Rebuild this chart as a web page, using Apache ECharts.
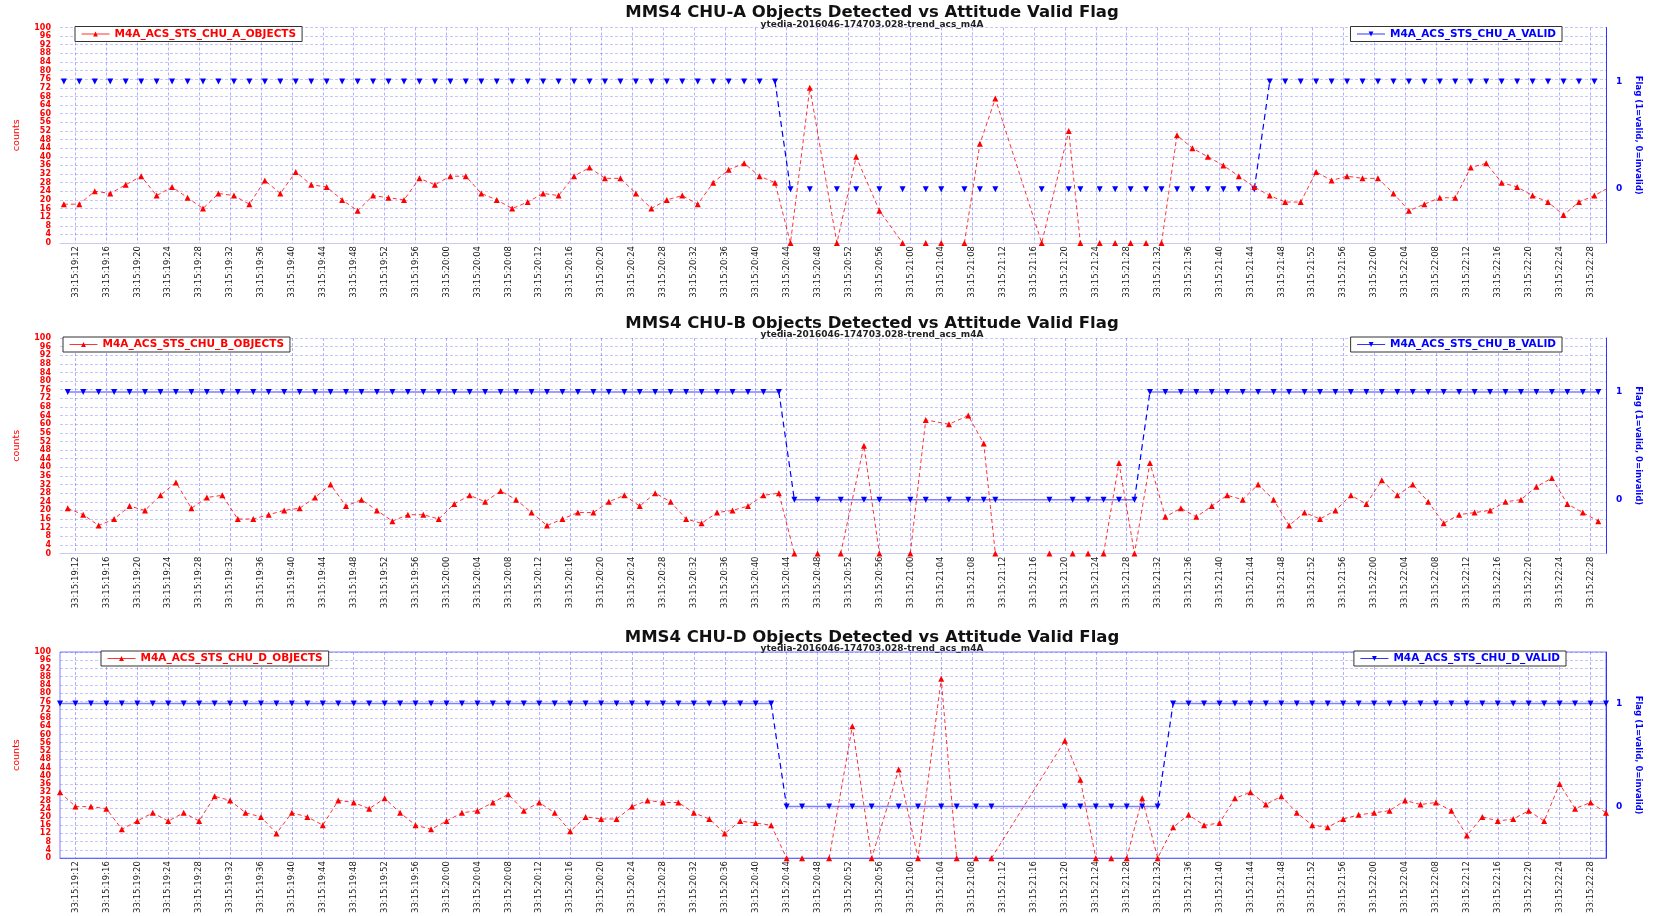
<!DOCTYPE html>
<html>
<head>
<meta charset="utf-8">
<title>MMS4 CHU Objects Detected vs Attitude Valid Flag</title>
<script src="https://cdn.jsdelivr.net/npm/echarts@6/dist/echarts.min.js"></script>
<style>
  html, body { margin: 0; padding: 0; background: #fff; }
  #chart { width: 1657px; height: 916px; }
</style>
</head>
<body>
<div id="chart"></div>
<script>
// sample times are seconds after 33:15:19:12
const chuATimes = [-1.5, 0.5, 2.5, 4.5, 6.5, 8.5, 10.5, 12.5, 14.5, 16.5, 18.5, 20.5, 22.5, 24.5, 26.5, 28.5, 30.5, 32.5, 34.5, 36.5,
  38.5, 40.5, 42.5, 44.5, 46.5, 48.5, 50.5, 52.5, 54.5, 56.5, 58.5, 60.5, 62.5, 64.5, 66.5, 68.5, 70.5, 72.5, 74.5, 76.5,
  78.5, 80.5, 82.5, 84.5, 86.5, 88.5, 90.5,
  92.5, 95, 98.5, 101, 104, 107, 110, 112, 115, 117, 119, 125, 128.5, 130, 132.5, 134.5, 136.5, 138.5, 140.5,
  142.5, 144.5, 146.5, 148.5, 150.5, 152.5, 154.5, 156.5, 158.5, 160.5, 162.5, 164.5, 166.5, 168.5, 170.5, 172.5,
  174.5, 176.5, 178.5, 180.5, 182.5, 184.5, 186.5, 188.5, 190.5, 192.5, 194.5, 196.5, 198.5];
const chuAObjects = [18, 18, 24, 23, 27, 31, 22, 26, 21, 16, 23, 22, 18, 29, 23, 33, 27, 26, 20, 15,
  22, 21, 20, 30, 27, 31, 31, 23, 20, 16, 19, 23, 22, 31, 35, 30, 30, 23, 16, 20,
  22, 18, 28, 34, 37, 31, 28,
  0, 72, 0, 40, 15, 0, 0, 0, 0, 46, 67, 0, 52, 0, 0, 0, 0, 0, 0,
  50, 44, 40, 36, 31, 26, 22, 19, 19, 33, 29, 31, 30, 30, 23, 15,
  18, 21, 21, 35, 37, 28, 26, 22, 19, 13, 19, 22, 26];
const chuAValid = [1, 1, 1, 1, 1, 1, 1, 1, 1, 1, 1, 1, 1, 1, 1, 1, 1, 1, 1, 1,
  1, 1, 1, 1, 1, 1, 1, 1, 1, 1, 1, 1, 1, 1, 1, 1, 1, 1, 1, 1,
  1, 1, 1, 1, 1, 1, 1,
  0, 0, 0, 0, 0, 0, 0, 0, 0, 0, 0, 0, 0, 0, 0, 0, 0, 0, 0,
  0, 0, 0, 0, 0, 0, 1, 1, 1, 1, 1, 1, 1, 1, 1, 1,
  1, 1, 1, 1, 1, 1, 1, 1, 1, 1, 1, 1, 1];

const chuBTimes = [-1, 1, 3, 5, 7, 9, 11, 13, 15, 17, 19, 21, 23, 25, 27, 29, 31, 33, 35, 37,
  39, 41, 43, 45, 47, 49, 51, 53, 55, 57, 59, 61, 63, 65, 67, 69, 71, 73, 75, 77,
  79, 81, 83, 85, 87, 89, 91,
  93, 96, 99, 102, 104, 108, 110, 113, 115.5, 117.5, 119, 126, 129, 131, 133, 135, 137, 139,
  141, 143, 145, 147, 149, 151, 153, 155, 157, 159, 161, 163, 165, 167, 169, 171,
  173, 175, 177, 179, 181, 183, 185, 187, 189, 191, 193, 195, 197];
const chuBObjects = [21, 18, 13, 16, 22, 20, 27, 33, 21, 26, 27, 16, 16, 18, 20, 21, 26, 32, 22, 25,
  20, 15, 18, 18, 16, 23, 27, 24, 29, 25, 19, 13, 16, 19, 19, 24, 27, 22, 28, 24,
  16, 14, 19, 20, 22, 27, 28,
  0, 0, 0, 50, 0, 0, 62, 60, 64, 51, 0, 0, 0, 0, 0, 42, 0, 42,
  17, 21, 17, 22, 27, 25, 32, 25, 13, 19, 16, 20, 27, 23, 34, 27,
  32, 24, 14, 18, 19, 20, 24, 25, 31, 35, 23, 19, 15];
const chuBValid = [1, 1, 1, 1, 1, 1, 1, 1, 1, 1, 1, 1, 1, 1, 1, 1, 1, 1, 1, 1,
  1, 1, 1, 1, 1, 1, 1, 1, 1, 1, 1, 1, 1, 1, 1, 1, 1, 1, 1, 1,
  1, 1, 1, 1, 1, 1, 1,
  0, 0, 0, 0, 0, 0, 0, 0, 0, 0, 0, 0, 0, 0, 0, 0, 0, 1,
  1, 1, 1, 1, 1, 1, 1, 1, 1, 1, 1, 1, 1, 1, 1, 1,
  1, 1, 1, 1, 1, 1, 1, 1, 1, 1, 1, 1, 1];

const chuDTimes = [-2, 0, 2, 4, 6, 8, 10, 12, 14, 16, 18, 20, 22, 24, 26, 28, 30, 32, 34, 36,
  38, 40, 42, 44, 46, 48, 50, 52, 54, 56, 58, 60, 62, 64, 66, 68, 70, 72, 74, 76,
  78, 80, 82, 84, 86, 88, 90,
  92, 94, 97.5, 100.5, 103, 106.5, 109, 112, 114, 116.5, 118.5, 128, 130, 132, 134, 136, 138, 140,
  142, 144, 146, 148, 150, 152, 154, 156, 158, 160, 162, 164, 166, 168, 170, 172,
  174, 176, 178, 180, 182, 184, 186, 188, 190, 192, 194, 196, 198];
const chuDObjects = [32, 25, 25, 24, 14, 18, 22, 18, 22, 18, 30, 28, 22, 20, 12, 22, 20, 16, 28, 27,
  24, 29, 22, 16, 14, 18, 22, 23, 27, 31, 23, 27, 22, 13, 20, 19, 19, 25, 28, 27,
  27, 22, 19, 12, 18, 17, 16,
  0, 0, 0, 64, 0, 43, 0, 87, 0, 0, 0, 57, 38, 0, 0, 0, 29, 0,
  15, 21, 16, 17, 29, 32, 26, 30, 22, 16, 15, 19, 21, 22, 23, 28,
  26, 27, 23, 11, 20, 18, 19, 23, 18, 36, 24, 27, 22];
const chuDValid = [1, 1, 1, 1, 1, 1, 1, 1, 1, 1, 1, 1, 1, 1, 1, 1, 1, 1, 1, 1,
  1, 1, 1, 1, 1, 1, 1, 1, 1, 1, 1, 1, 1, 1, 1, 1, 1, 1, 1, 1,
  1, 1, 1, 1, 1, 1, 1,
  0, 0, 0, 0, 0, 0, 0, 0, 0, 0, 0, 0, 0, 0, 0, 0, 0, 0,
  1, 1, 1, 1, 1, 1, 1, 1, 1, 1, 1, 1, 1, 1, 1, 1,
  1, 1, 1, 1, 1, 1, 1, 1, 1, 1, 1, 1, 1];

// x ticks every 4 s, 33:15:19:12 .. 33:15:22:28
const tickSeconds = [];
for (let t = 0; t <= 196; t += 4) tickSeconds.push(t);

function timeLabel(sec) {
  const total = 19 * 60 + 12 + sec;
  const mm = Math.floor(total / 60);
  const ss = total % 60;
  return '33:15:' + mm + ':' + (ss < 10 ? '0' : '') + ss;
}

const panels = [
  { unit: 'A', top: 27.5, left: 75, right: 95, times: chuATimes, objects: chuAObjects, valid: chuAValid,
    flagLine: { color: '#0000ff', width: 1, opacity: 0 }, border: false },
  { unit: 'B', top: 338, left: 63, right: 95, times: chuBTimes, objects: chuBObjects, valid: chuBValid,
    flagLine: { color: '#0000ff', width: 1.5, opacity: 0.5 }, border: false },
  { unit: 'D', top: 652, left: 101, right: 91, times: chuDTimes, objects: chuDObjects, valid: chuDValid,
    flagLine: { color: '#0000ff', width: 1.5, opacity: 0.5 }, border: true }
];

// consecutive zero counts are not joined
function objectPoints(times, vals) {
  const out = [];
  for (let j = 0; j < times.length; j++) {
    if (j > 0 && vals[j] === 0 && vals[j - 1] === 0) out.push([(times[j] + times[j - 1]) / 2, '-']);
    out.push([times[j], vals[j]]);
  }
  return out;
}
// flag level line, broken where the flag switches
function flagPoints(times, vals) {
  const out = [];
  for (let j = 0; j < times.length; j++) {
    if (j > 0 && vals[j] !== vals[j - 1]) out.push([(times[j] + times[j - 1]) / 2, '-']);
    out.push([times[j], vals[j]]);
  }
  return out;
}
function flagSwitches(times, vals) {
  const out = [];
  for (let j = 1; j < times.length; j++) {
    if (vals[j] !== vals[j - 1]) {
      out.push([times[j - 1], vals[j - 1]], [times[j], vals[j]], [times[j], '-']);
    }
  }
  return out;
}

const FONT = 'DejaVu Sans';
const option = { animation: false, title: [], legend: [], grid: [], xAxis: [], yAxis: [], series: [] };

panels.forEach(function (p, i) {
  const objName = 'M4A_ACS_STS_CHU_' + p.unit + '_OBJECTS';
  const flagName = 'M4A_ACS_STS_CHU_' + p.unit + '_VALID';

  option.title.push({
    text: 'MMS4 CHU-' + p.unit + ' Objects Detected vs Attitude Valid Flag',
    left: 872, top: p.top - 23, textAlign: 'center', padding: 0,
    textStyle: { fontFamily: FONT, fontSize: 16.5, fontWeight: 'bold', color: '#111' }
  });
  option.title.push({
    text: 'ytedia-2016046-174703.028-trend_acs_m4A',
    left: 872, top: p.top - 7.5, textAlign: 'center', padding: 0,
    textStyle: { fontFamily: FONT, fontSize: 9, fontWeight: 'bold', color: '#222' }
  });

  option.grid.push({
    left: 60, right: 51, top: p.top, height: 215.5,
    show: p.border, borderColor: 'rgba(90,90,255,0.8)', borderWidth: 1
  });

  option.xAxis.push({
    gridIndex: i, type: 'value', min: -2, max: 198,
    axisLine: { show: true, onZero: false, lineStyle: { color: p.border ? 'rgba(90,90,255,0.8)' : '#c8c8f0' } },
    axisTick: { show: false, customValues: tickSeconds },
    axisLabel: {
      customValues: tickSeconds, rotate: 90, margin: 3, formatter: timeLabel,
      fontFamily: FONT, fontSize: 8.5, color: '#1a1a1a'
    },
    splitLine: { show: true, lineStyle: { color: 'rgba(70,70,255,0.42)', type: [3, 2], width: 1 } }
  });

  option.yAxis.push({
    gridIndex: i, type: 'value', min: 0, max: 100, interval: 4, position: 'left',
    name: 'counts', nameLocation: 'middle', nameGap: 38,
    nameTextStyle: { color: '#ff0000', fontFamily: FONT, fontSize: 9.5 },
    axisLine: { show: false }, axisTick: { show: false },
    axisLabel: {
      color: '#ff0000', fontWeight: 'bold', fontFamily: FONT, fontSize: 8, lineHeight: 7, margin: 9,
      showMinLabel: true, showMaxLabel: true, hideOverlap: false
    },
    splitLine: { show: true, lineStyle: { color: 'rgba(70,70,255,0.3)', type: [3, 2], width: 1 } }
  });
  option.yAxis.push({
    gridIndex: i, type: 'value', min: -0.5, max: 1.5, interval: 0.5, position: 'right',
    name: 'Flag (1=valid, 0=invalid)', nameLocation: 'middle', nameRotate: -90, nameGap: 28,
    nameTextStyle: { color: '#0000ff', fontFamily: FONT, fontSize: 8.5, fontWeight: 'bold' },
    axisLine: { show: true, lineStyle: { color: '#3333ff', width: 1 } },
    axisTick: { show: false }, splitLine: { show: false },
    axisLabel: {
      color: '#0000ff', fontWeight: 'bold', fontFamily: FONT, fontSize: 9, margin: 10,
      formatter: function (v) { return (v === 0 || v === 1) ? String(v) : ''; }
    }
  });

  const legendBase = {
    top: p.top - 1, padding: [2, 6, 2, 6], itemWidth: 28, itemHeight: 6, itemGap: 0,
    backgroundColor: '#fff', borderColor: '#333', borderWidth: 1,
    lineStyle: { type: 'solid', opacity: 0.8, width: 1 }
  };
  option.legend.push(Object.assign({}, legendBase, {
    data: [objName], left: p.left,
    textStyle: { color: '#ff0000', fontFamily: FONT, fontWeight: 'bold', fontSize: 10.5 }
  }));
  option.legend.push(Object.assign({}, legendBase, {
    data: [flagName], right: p.right,
    textStyle: { color: '#0000ff', fontFamily: FONT, fontWeight: 'bold', fontSize: 10.5 }
  }));

  option.series.push({
    name: flagName, type: 'line', xAxisIndex: i, yAxisIndex: 2 * i + 1,
    data: flagPoints(p.times, p.valid),
    symbol: 'triangle', symbolRotate: 180, symbolSize: 6,
    itemStyle: { color: '#0000ff' }, lineStyle: p.flagLine
  });
  option.series.push({
    type: 'line', xAxisIndex: i, yAxisIndex: 2 * i + 1, silent: true,
    data: flagSwitches(p.times, p.valid), symbol: 'none',
    lineStyle: { color: '#0000ff', width: 1.2, type: [6, 4] }
  });
  option.series.push({
    name: objName, type: 'line', xAxisIndex: i, yAxisIndex: 2 * i,
    data: objectPoints(p.times, p.objects),
    symbol: 'triangle', symbolSize: 6,
    itemStyle: { color: '#ff0000' },
    lineStyle: { color: '#ff0000', width: 1, type: [4, 3], opacity: 0.8 }
  });
});

const myChart = echarts.init(document.getElementById('chart'));
myChart.setOption(option);
</script>
</body>
</html>
